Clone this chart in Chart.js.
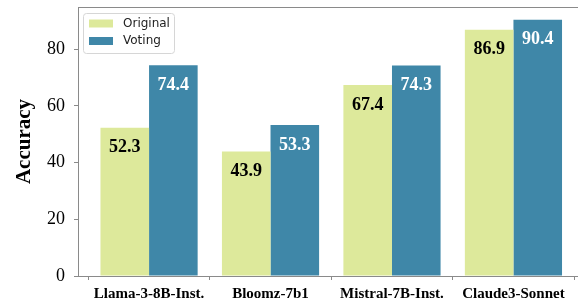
<!DOCTYPE html>
<html>
<head>
<meta charset="utf-8">
<script src="https://cdn.jsdelivr.net/npm/chart.js@4"></script>
<style>
  html, body { margin: 0; padding: 0; background: #fff; overflow: hidden; }
  #wrap { width: 600px; height: 300px; }
</style>
</head>
<body>
<div id="wrap"><canvas id="accChart" width="600" height="300"></canvas></div>
<script>
const models = ["Llama-3-8B-Inst.", "Bloomz-7b1", "Mistral-7B-Inst.", "Claude3-Sonnet"];
const original = [52.3, 43.9, 67.4, 86.9];
const voting = [74.4, 53.3, 74.3, 90.4];
const yTicks = [0, 20, 40, 60, 80];

const seriesColors = { Original: "#dde99b", Voting: "#3f87a8" };
const spineColor = "#8a8a8a";

// frame around the plot (top / right spines)
const framePlugin = {
  id: "frame",
  afterDraw(chart) {
    const { ctx, chartArea: a } = chart;
    ctx.save();
    ctx.strokeStyle = spineColor;
    ctx.lineWidth = 1;
    ctx.strokeRect(Math.round(a.left) + 0.5, Math.round(a.top) + 0.5, a.right - a.left, a.bottom - a.top);
    ctx.restore();
  }
};

// value labels inside the bars
const valueLabels = {
  id: "valueLabels",
  afterDatasetsDraw(chart) {
    const ctx = chart.ctx;
    ctx.save();
    ctx.font = "bold 18px 'Liberation Serif', serif";
    ctx.textAlign = "center";
    ctx.textBaseline = "middle";
    chart.data.datasets.forEach((ds, di) => {
      ctx.fillStyle = di === 0 ? "#000" : "#fff";
      chart.getDatasetMeta(di).data.forEach((bar, i) => {
        ctx.fillText(ds.data[i].y.toFixed(1), bar.x, bar.y + 20);
      });
    });
    ctx.restore();
  }
};

// matplotlib-style legend box in the upper left
const boxLegend = {
  id: "boxLegend",
  afterDraw(chart) {
    const ctx = chart.ctx;
    const x = 83, y = 13, w = 91, h = 40;
    ctx.save();
    ctx.fillStyle = "rgba(255,255,255,0.85)";
    ctx.strokeStyle = "#d6d6d6";
    ctx.lineWidth = 1;
    ctx.beginPath();
    ctx.roundRect(x + 0.5, y + 0.5, w, h, 3);
    ctx.fill();
    ctx.stroke();
    ctx.font = "12px 'DejaVu Sans', sans-serif";
    ctx.textBaseline = "middle";
    chart.data.datasets.forEach((ds, i) => {
      const cy = y + 10.5 + i * 17.5;
      ctx.fillStyle = ds.backgroundColor;
      ctx.fillRect(x + 6, cy - 4, 24, 8);
      ctx.fillStyle = "#222";
      ctx.fillText(ds.label, x + 40, cy);
    });
    ctx.restore();
  }
};

new Chart("accChart", {
  type: "bar",
  data: {
    datasets: [
      {
        label: "Original",
        data: original.map((v, i) => ({ x: i, y: v })),
        backgroundColor: seriesColors.Original,
      },
      {
        label: "Voting",
        data: voting.map((v, i) => ({ x: i, y: v })),
        backgroundColor: seriesColors.Voting,
      },
    ],
  },
  options: {
    responsive: false,
    animation: false,
    layout: { padding: { top: 7, right: 15.5, left: 0, bottom: 0 } },
    datasets: { bar: { categoryPercentage: 0.8, barPercentage: 1.0 } },
    plugins: { legend: { display: false }, tooltip: { enabled: false } },
    scales: {
      x: {
        type: "linear",
        offset: false,
        min: -0.585,
        max: 3.585,
        afterBuildTicks: (axis) => {
          axis.ticks = models.map((_, i) => ({ value: i }));
        },
        afterFit: (axis) => {
          axis.height = 24;
          axis.paddingLeft = 0;
          axis.paddingRight = 0;
        },
        grid: {
          drawOnChartArea: false,
          drawTicks: true,
          tickLength: 4,
          color: spineColor,
        },
        border: { color: spineColor, width: 1 },
        ticks: {
          autoSkip: false,
          maxRotation: 0,
          padding: 5,
          color: "#000",
          font: { family: "'Liberation Serif', serif", size: 15, weight: "bold" },
          callback: (v) => models[v],
        },
      },
      y: {
        min: 0,
        max: 94.92,
        afterBuildTicks: (axis) => {
          axis.ticks = yTicks.map((v) => ({ value: v }));
        },
        afterFit: (axis) => {
          axis.width = 78;
          axis.paddingTop = 0;
          axis.paddingBottom = 0;
        },
        grid: {
          drawOnChartArea: false,
          drawTicks: true,
          tickLength: 4,
          color: spineColor,
        },
        border: { color: spineColor, width: 1 },
        ticks: {
          padding: 9,
          color: "#000",
          font: { family: "'Liberation Serif', serif", size: 18 },
        },
        title: {
          display: true,
          text: "Accuracy",
          color: "#000",
          padding: { top: 12, bottom: 0 },
          font: { family: "'Liberation Serif', serif", size: 21, weight: "bold" },
        },
      },
    },
  },
  plugins: [framePlugin, valueLabels, boxLegend],
});
</script>
</body>
</html>
